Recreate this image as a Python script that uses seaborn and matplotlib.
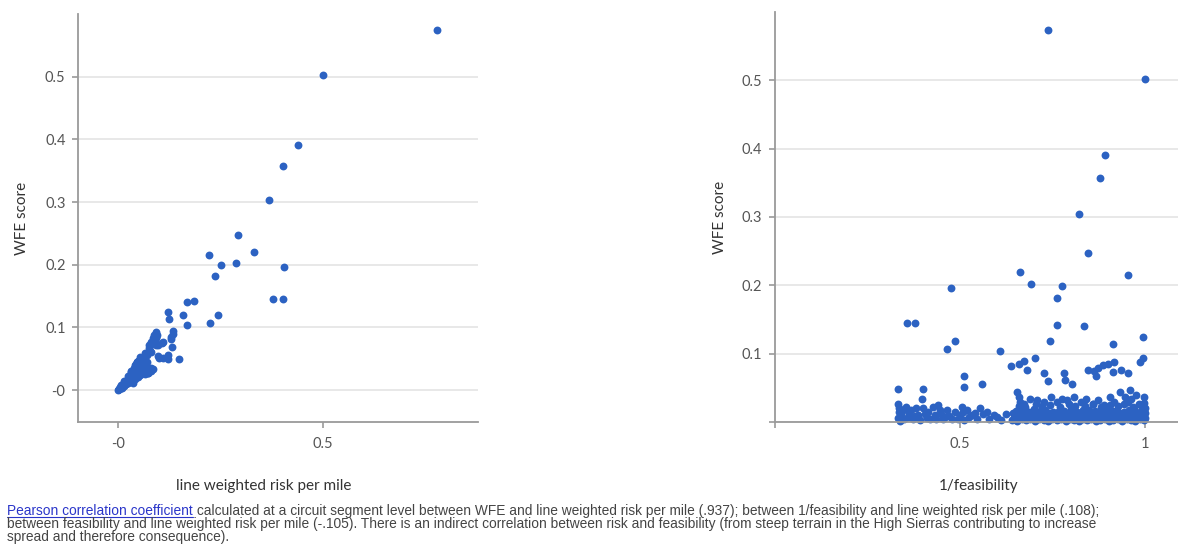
import matplotlib
matplotlib.use("Agg")
import matplotlib.pyplot as plt
import pandas as pd
import seaborn as sns
from matplotlib.lines import Line2D

# points that can be read in both panels (same segment in each)
risk_main = [0.777, 0.500, 0.440, 0.402, 0.369, 0.292, 0.332, 0.222, 0.288, 0.251,
             0.406, 0.237, 0.379, 0.402, 0.168, 0.186, 0.123, 0.159, 0.245, 0.125,
             0.225, 0.168, 0.129, 0.134, 0.111, 0.134, 0.129, 0.099, 0.081, 0.092,
             0.079, 0.070, 0.090, 0.087, 0.090, 0.094, 0.094, 0.096, 0.077, 0.080,
             0.081, 0.075, 0.089, 0.093, 0.148, 0.123, 0.085, 0.133, 0.100, 0.098,
             0.067, 0.047, 0.049]
inv_feas_main = [0.739, 1.000, 0.893, 0.880, 0.821, 0.846, 0.664, 0.955, 0.692, 0.776,
                 0.477, 0.763, 0.378, 0.356, 0.835, 0.763, 0.994, 0.743, 0.486, 0.914,
                 0.464, 0.609, 0.659, 0.673, 0.682, 0.702, 0.638, 0.727, 0.738, 0.782,
                 0.784, 0.804, 0.846, 0.864, 0.874, 0.886, 0.900, 0.918, 0.868, 0.914,
                 0.936, 0.955, 0.986, 0.995, 0.332, 0.400, 0.398, 0.511, 0.511, 0.559,
                 0.655, 0.932, 0.960]
wfe_main = [0.574, 0.502, 0.391, 0.357, 0.304, 0.248, 0.220, 0.215, 0.202, 0.199,
            0.196, 0.182, 0.145, 0.145, 0.141, 0.142, 0.124, 0.119, 0.119, 0.114,
            0.107, 0.104, 0.085, 0.090, 0.076, 0.094, 0.082, 0.072, 0.060, 0.072,
            0.062, 0.056, 0.076, 0.075, 0.079, 0.083, 0.085, 0.088, 0.067, 0.073,
            0.076, 0.072, 0.088, 0.093, 0.049, 0.049, 0.034, 0.068, 0.051, 0.055,
            0.044, 0.044, 0.047]

# dense blob near the origin, left panel
risk_dense = [0.000, 0.004, 0.006, 0.010, 0.012, 0.015, 0.018, 0.020, 0.022, 0.025,
              0.027, 0.030, 0.031, 0.034, 0.035, 0.038, 0.040, 0.042, 0.043, 0.045,
              0.047, 0.049, 0.050, 0.052, 0.054, 0.055, 0.057, 0.058, 0.060, 0.061,
              0.063, 0.066, 0.068, 0.071, 0.074, 0.077, 0.008, 0.016, 0.024, 0.032,
              0.041, 0.048, 0.054, 0.082, 0.123, 0.110, 0.066, 0.054, 0.062, 0.107,
              0.086, 0.078, 0.074, 0.028, 0.036, 0.046, 0.014, 0.003,
              0.002, 0.007, 0.011, 0.013, 0.017, 0.019, 0.021, 0.023, 0.026, 0.029,
              0.033, 0.037, 0.039, 0.044, 0.051, 0.056, 0.059, 0.064, 0.069, 0.072,
              0.044, 0.039, 0.033, 0.050, 0.065, 0.070, 0.080, 0.056, 0.062, 0.052]
wfe_dense_left = [0.000, 0.002, 0.005, 0.004, 0.009, 0.007, 0.012, 0.009, 0.016, 0.012,
                  0.019, 0.015, 0.022, 0.017, 0.026, 0.020, 0.029, 0.024, 0.018, 0.033,
                  0.027, 0.021, 0.037, 0.030, 0.024, 0.041, 0.034, 0.046, 0.027, 0.038,
                  0.031, 0.025, 0.033, 0.028, 0.027, 0.030, 0.008, 0.015, 0.023, 0.031,
                  0.040, 0.045, 0.050, 0.035, 0.056, 0.051, 0.059, 0.053, 0.043, 0.075,
                  0.083, 0.072, 0.027, 0.013, 0.011, 0.039, 0.010, 0.001,
                  0.001, 0.004, 0.007, 0.006, 0.010, 0.013, 0.011, 0.014, 0.015, 0.017,
                  0.020, 0.024, 0.018, 0.028, 0.033, 0.028, 0.040, 0.036, 0.029, 0.035,
                  0.042, 0.035, 0.029, 0.043, 0.047, 0.044, 0.031, 0.049, 0.052, 0.026]

# dense band along the bottom, right panel
inv_feas_dense = [
    0.332, 0.335, 0.340, 0.333, 0.338, 0.346, 0.355, 0.360, 0.368, 0.372, 0.382, 0.388,
    0.393, 0.400, 0.405, 0.414, 0.418, 0.427, 0.432, 0.441, 0.446, 0.450, 0.455, 0.464,
    0.470, 0.480, 0.486, 0.495, 0.500, 0.505, 0.512, 0.518, 0.525, 0.532, 0.545, 0.555,
    0.563, 0.573, 0.580, 0.591, 0.600, 0.612, 0.624, 0.336, 0.350, 0.362, 0.378, 0.410,
    0.436, 0.459, 0.508, 0.540,
    0.642, 0.655, 0.667, 0.679, 0.690, 0.703, 0.715, 0.727, 0.738, 0.750, 0.762, 0.774,
    0.786, 0.797, 0.809, 0.821, 0.833, 0.845, 0.856, 0.868, 0.880, 0.892, 0.904, 0.915,
    0.927, 0.939, 0.951, 0.963, 0.975, 0.986, 0.998, 1.000,
    0.646, 0.652, 0.664, 0.676, 0.688, 0.700, 0.712, 0.724, 0.736, 0.747, 0.759, 0.771,
    0.783, 0.795, 0.806, 0.818, 0.830, 0.842, 0.854, 0.865, 0.877, 0.889, 0.901, 0.913,
    0.924, 0.936, 0.948, 0.960, 0.972, 0.984, 0.995,
    0.648, 0.661, 0.673, 0.685, 0.697, 0.709, 0.721, 0.733, 0.744, 0.756, 0.768, 0.780,
    0.792, 0.803, 0.815, 0.827, 0.839, 0.851, 0.862, 0.874, 0.886, 0.898, 0.910, 0.921,
    0.933, 0.945, 0.957, 0.969, 0.981, 0.993, 1.000,
    0.645, 0.658, 0.670, 0.682, 0.694, 0.706, 0.718, 0.730, 0.741, 0.753, 0.765, 0.777,
    0.789, 0.800, 0.812, 0.824, 0.836, 0.848, 0.859, 0.871, 0.883, 0.895, 0.907, 0.918,
    0.930, 0.942, 0.954, 0.966, 0.978, 0.990, 0.999,
    0.652, 0.668, 0.688, 0.700, 0.718, 0.731, 0.752, 0.770, 0.782, 0.800, 0.818, 0.832,
    0.850, 0.866, 0.879, 0.895, 0.912, 0.925, 0.944, 0.958, 0.972, 0.990, 1.000,
    0.660, 0.676, 0.705, 0.722, 0.745, 0.770, 0.795, 0.812, 0.838, 0.860, 0.882, 0.905,
    0.928, 0.945, 0.968, 0.985, 0.998,
    0.659, 0.664, 0.673, 0.691, 0.709, 0.727, 0.746, 0.764, 0.777, 0.791, 0.809, 0.827,
    0.841, 0.859, 0.873, 0.891, 0.905, 0.918, 0.946, 0.955, 0.964, 0.977, 0.991, 0.998]
wfe_dense_right = [
    0.027, 0.020, 0.012, 0.006, 0.002, 0.017, 0.022, 0.008, 0.017, 0.004, 0.020, 0.010,
    0.003, 0.020, 0.012, 0.015, 0.005, 0.022, 0.010, 0.025, 0.017, 0.012, 0.004, 0.017,
    0.009, 0.005, 0.014, 0.005, 0.010, 0.022, 0.003, 0.017, 0.008, 0.010, 0.004, 0.020,
    0.011, 0.015, 0.005, 0.010, 0.007, 0.003, 0.012, 0.014, 0.004, 0.013, 0.009, 0.006,
    0.005, 0.008, 0.014, 0.013,
    0.003, 0.002, 0.004, 0.003, 0.005, 0.002, 0.004, 0.003, 0.002, 0.004, 0.003, 0.005,
    0.002, 0.004, 0.003, 0.002, 0.004, 0.003, 0.005, 0.002, 0.003, 0.004, 0.002, 0.003,
    0.005, 0.002, 0.004, 0.003, 0.002, 0.004, 0.003, 0.006,
    0.006, 0.007, 0.006, 0.007, 0.006, 0.007, 0.006, 0.007, 0.006, 0.007, 0.006, 0.007,
    0.006, 0.007, 0.006, 0.007, 0.006, 0.007, 0.006, 0.007, 0.006, 0.007, 0.006, 0.007,
    0.006, 0.007, 0.006, 0.007, 0.006, 0.007, 0.008,
    0.009, 0.011, 0.008, 0.010, 0.012, 0.009, 0.008, 0.011, 0.010, 0.009, 0.012, 0.008,
    0.010, 0.011, 0.009, 0.008, 0.012, 0.010, 0.009, 0.011, 0.008, 0.010, 0.012, 0.009,
    0.011, 0.008, 0.010, 0.009, 0.012, 0.010, 0.013,
    0.013, 0.014, 0.012, 0.013, 0.014, 0.012, 0.013, 0.014, 0.013, 0.012, 0.014, 0.013,
    0.012, 0.014, 0.013, 0.012, 0.013, 0.014, 0.012, 0.013, 0.014, 0.012, 0.013, 0.014,
    0.012, 0.013, 0.014, 0.012, 0.013, 0.014, 0.016,
    0.016, 0.018, 0.015, 0.019, 0.016, 0.017, 0.015, 0.018, 0.016, 0.019, 0.015, 0.017,
    0.018, 0.016, 0.015, 0.019, 0.016, 0.018, 0.015, 0.017, 0.019, 0.016, 0.020,
    0.024, 0.022, 0.026, 0.023, 0.025, 0.022, 0.027, 0.024, 0.023, 0.026, 0.022, 0.025,
    0.023, 0.027, 0.022, 0.026, 0.028,
    0.037, 0.030, 0.027, 0.034, 0.032, 0.030, 0.037, 0.030, 0.034, 0.032, 0.037, 0.030,
    0.034, 0.027, 0.032, 0.025, 0.037, 0.030, 0.037, 0.030, 0.034, 0.039, 0.025, 0.036]

left_xticks = [0, 0.5]
left_xticklabels = ["-0", "0.5"]
left_yticks = [0, 0.1, 0.2, 0.3, 0.4, 0.5]
left_yticklabels = ["-0", "0.1", "0.2", "0.3", "0.4", "0.5"]
right_xticks = [0, 0.5, 1]
right_xticklabels = ["", "0.5", "1"]
right_yticks = [0, 0.1, 0.2, 0.3, 0.4, 0.5]
right_yticklabels = ["", "0.1", "0.2", "0.3", "0.4", "0.5"]

caption_link = "Pearson correlation coefficient"
caption_line1 = (" calculated at a circuit segment level between WFE and line weighted risk per mile (.937); "
                 "between 1/feasibility and line weighted risk per mile (.108);")
caption_line2 = ("between feasibility and line weighted risk per mile (-.105). There is an indirect correlation "
                 "between risk and feasibility (from steep terrain in the High Sierras contributing to increase")
caption_line3 = "spread and therefore consequence)."

main_df = pd.DataFrame({"risk": risk_main, "inv_feas": inv_feas_main, "wfe": wfe_main})
left_df = pd.concat([main_df[["risk", "wfe"]],
                     pd.DataFrame({"risk": risk_dense, "wfe": wfe_dense_left})])
right_df = pd.concat([main_df[["inv_feas", "wfe"]],
                      pd.DataFrame({"inv_feas": inv_feas_dense, "wfe": wfe_dense_right})])

sns.set_style("white")
plt.rcParams["font.family"] = ["Lato", "DejaVu Sans"]

W, H = 1178, 556
fig = plt.figure(figsize=(W / 100, H / 100), dpi=100)
fig.patch.set_facecolor("white")

dot = "#2c62c2"
grid_c = "#e2e2e2"
spine_c = "#9a9a9a"
tick_c = "#555555"


def style_axes(ax):
    sns.despine(ax=ax, top=True, right=True)
    for s in ["left", "bottom"]:
        ax.spines[s].set_color(spine_c)
        ax.spines[s].set_linewidth(1.3)
    ax.yaxis.grid(True, color=grid_c, linewidth=1.1)
    ax.xaxis.grid(False)
    ax.set_axisbelow(True)
    ax.tick_params(axis="both", colors=spine_c, labelcolor=tick_c, labelsize=10.5,
                   length=4, width=1.2, direction="out", left=True, bottom=True)
    ax.tick_params(axis="x", pad=7)
    ax.tick_params(axis="y", pad=5)


# left panel
ax1 = fig.add_axes([78 / W, 1 - 422 / H, 400 / W, 408 / H])
sns.scatterplot(data=left_df, x="risk", y="wfe", ax=ax1, color=dot, s=32,
                linewidth=0, alpha=1)
ax1.set_xlim(-0.097, 0.878)
ax1.set_ylim(-0.051, 0.60)
ax1.set_xticks(left_xticks, left_xticklabels)
ax1.set_yticks(left_yticks, left_yticklabels)
style_axes(ax1)
ax1.set_xlabel("line weighted risk per mile", fontsize=11, color="#333333")
ax1.set_ylabel("WFE score", fontsize=11, color="#333333")
ax1.xaxis.set_label_coords(0.465, -0.14)
ax1.yaxis.set_label_coords(-0.122, 0.5)

# right panel
ax2 = fig.add_axes([775 / W, 1 - 422 / H, 403 / W, 410 / H])
sns.scatterplot(data=right_df, x="inv_feas", y="wfe", ax=ax2, color=dot, s=32,
                linewidth=0, alpha=1, clip_on=False)
ax2.set_xlim(0, 1.09)
ax2.set_ylim(0, 0.60)
ax2.set_xticks(right_xticks, right_xticklabels)
ax2.set_yticks(right_yticks, right_yticklabels)
style_axes(ax2)
ax2.set_xlabel("1/feasibility", fontsize=11, color="#333333")
ax2.set_ylabel("WFE score", fontsize=11, color="#333333")
ax2.xaxis.set_label_coords(0.504, -0.14)
ax2.yaxis.set_label_coords(-0.119, 0.5)

# caption with a link-styled first phrase
cap_font = ["Liberation Sans", "DejaVu Sans"]
cap_size = 9.9
x0 = 7 / W
y1 = 1 - 515 / H
link = fig.text(x0, y1, caption_link, color="#2a35c9", fontsize=cap_size,
                family=cap_font, va="baseline")
fig.canvas.draw()
bb = link.get_window_extent()
fig.add_artist(Line2D([bb.x0 / W, bb.x1 / W], [y1 - 1.5 / H] * 2,
                      transform=fig.transFigure, color="#2a35c9", linewidth=0.8))
fig.text(bb.x1 / W, y1, caption_line1, color="#444444", fontsize=cap_size,
         family=cap_font, va="baseline")
fig.text(x0, 1 - 528 / H, caption_line2, color="#444444", fontsize=cap_size,
         family=cap_font, va="baseline")
fig.text(x0, 1 - 541 / H, caption_line3, color="#444444", fontsize=cap_size,
         family=cap_font, va="baseline")

fig.savefig("out.png", dpi=100, facecolor="white")
